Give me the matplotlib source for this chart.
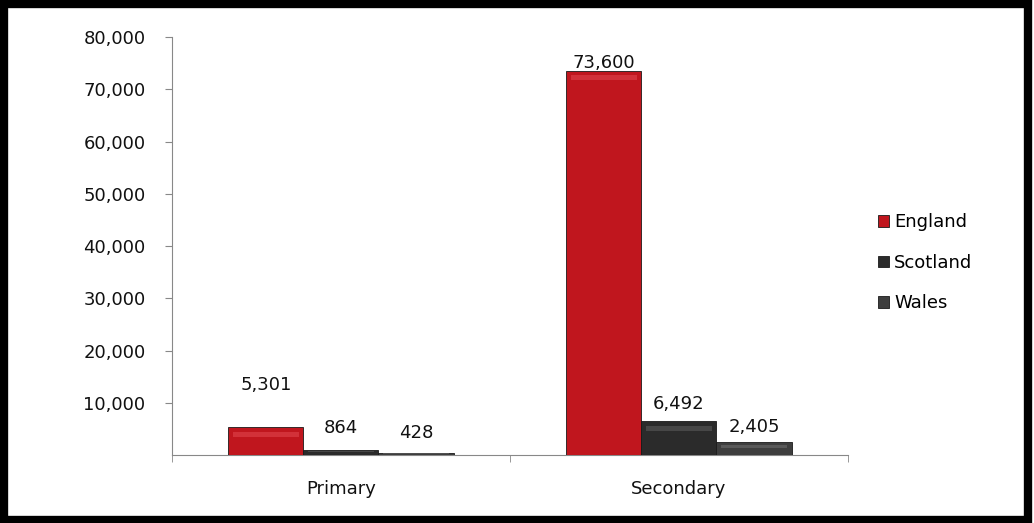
import numpy as np
import matplotlib.pyplot as plt
from matplotlib.patches import Rectangle

categories = ['Primary', 'Secondary']
series = ['England', 'Scotland', 'Wales']
england = [5301, 73600]
scotland = [864, 6492]
wales = [428, 2405]
yticks = [10000, 20000, 30000, 40000, 50000, 60000, 70000, 80000]

colors = ['#c0161e', '#2b2b2b', '#3e3e3e']
highlights = ['#e8545a', '#6a6a6a', '#7a7a7a']
# vertical offset (points) of each value label above its bar
label_offsets = [[24, 10, 8], [-1, 6, 5]]


def draw_bars(ax):
    width = 0.222
    x = np.arange(len(categories))
    values = [england, scotland, wales]
    for i, name in enumerate(series):
        pos = x + (i - 1) * width
        bars = ax.bar(pos, values[i], width, color=colors[i], label=name,
                      edgecolor='#1a1a1a', linewidth=0.6, zorder=3)
        for j, b in enumerate(bars):
            h = b.get_height()
            # glossy bevel along the bar top
            band = min(h * 0.5, 2200)
            ax.add_patch(Rectangle((b.get_x() + width * 0.06, h - band * 0.85),
                                   width * 0.88, band * 0.45,
                                   color=highlights[i], alpha=0.45, lw=0, zorder=4))
            ax.annotate(f'{h:,.0f}', (b.get_x() + width / 2, h),
                        xytext=(0, label_offsets[j][i]), textcoords='offset points',
                        ha='center', va='bottom', fontsize=13, color='#111111',
                        zorder=5)
    return x


def main():
    fig = plt.figure(figsize=(10.34, 5.23), dpi=100)
    ax = fig.add_axes([0.1663, 0.130, 0.6538, 0.799])

    x = draw_bars(ax)

    ax.set_xlim(-0.5, 1.5)
    ax.set_ylim(0, 80000)
    ax.set_yticks(yticks)
    ax.set_yticklabels([f'{v:,}' for v in yticks], fontsize=13, color='#111111')
    ax.set_xticks(x)
    ax.set_xticklabels(categories, fontsize=13, color='#111111')
    ax.set_xticks([-0.5, 0.5, 1.5], minor=True)
    ax.tick_params(axis='x', which='major', length=0, pad=18)
    ax.tick_params(axis='x', which='minor', length=5, color='#888888')
    ax.tick_params(axis='y', length=5, color='#888888', pad=14)
    for side in ['top', 'right']:
        ax.spines[side].set_visible(False)
    for side in ['left', 'bottom']:
        ax.spines[side].set_color('#888888')

    ax.legend(loc='center left', bbox_to_anchor=(1.02, 0.46), frameon=False,
              fontsize=13, handlelength=0.6, handleheight=0.6,
              handletextpad=0.3, labelspacing=1.25)

    # black frame round the chart
    fig.patches.append(Rectangle((0.004, 0.006), 0.99, 0.986, transform=fig.transFigure,
                                 fill=False, edgecolor='black', linewidth=6))

    fig.savefig('out.png', dpi=100)


if __name__ == '__main__':
    main()
